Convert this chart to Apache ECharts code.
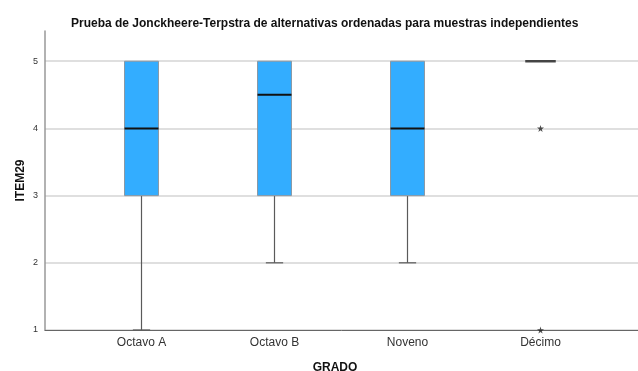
<!DOCTYPE html>
<html>
<head>
<meta charset="utf-8">
<script src="https://cdn.jsdelivr.net/npm/echarts@6/dist/echarts.min.js"></script>
<style>
  html, body { margin: 0; padding: 0; background: #fff; }
  #chart { width: 638px; height: 371px; }
</style>
</head>
<body>
<div id="chart"></div>
<script>
var categories = ["Octavo A", "Octavo B", "Noveno", "Décimo"];
var whiskerLow = [1, 2, 2, 5];
var q1 = [3, 3, 3, 5];
var medians = [4, 4.5, 4, 5];
var q3 = [5, 5, 5, 5];
var whiskerHigh = [5, 5, 5, 5];
// extreme values (stars)
var outliers = [[3, 4], [3, 1]];
var yTicks = [1, 2, 3, 4, 5];

var boxData = categories.map(function (c, i) {
  return [i, whiskerLow[i], q1[i], medians[i], q3[i], whiskerHigh[i]];
});

var starPath = "path://M50,0 L61,35 L98,35 L68,57 L79,91 L50,70 L21,91 L32,57 L2,35 L39,35 Z";

function renderBox(params, api) {
  var i = api.value(0);
  var lo = api.coord([i, api.value(1)]);
  var b1 = api.coord([i, api.value(2)]);
  var md = api.coord([i, api.value(3)]);
  var b3 = api.coord([i, api.value(4)]);
  var hi = api.coord([i, api.value(5)]);
  var band = api.size([1, 0])[0];
  var bw = band * 0.255;
  var cw = band * 0.13;
  var x = md[0];
  var whisk = { stroke: "#5a5a5a", lineWidth: 1.2 };
  var kids = [];
  if (lo[1] > b1[1]) {
    kids.push({ type: "line", shape: { x1: x, y1: b1[1], x2: x, y2: lo[1] }, style: whisk });
    kids.push({ type: "line", shape: { x1: x - cw / 2, y1: lo[1], x2: x + cw / 2, y2: lo[1] }, style: whisk });
  }
  if (hi[1] < b3[1]) {
    kids.push({ type: "line", shape: { x1: x, y1: b3[1], x2: x, y2: hi[1] }, style: whisk });
    kids.push({ type: "line", shape: { x1: x - cw / 2, y1: hi[1], x2: x + cw / 2, y2: hi[1] }, style: whisk });
  }
  if (b1[1] - b3[1] > 0.5) {
    kids.push({
      type: "rect",
      shape: { x: x - bw / 2, y: b3[1], width: bw, height: b1[1] - b3[1] },
      style: { fill: "#33adff", stroke: "#8a98a4", lineWidth: 1 }
    });
    kids.push({ type: "line", shape: { x1: x - bw / 2, y1: md[1], x2: x + bw / 2, y2: md[1] },
      style: { stroke: "#111", lineWidth: 2 } });
  } else {
    kids.push({ type: "line", shape: { x1: x - bw * 0.45, y1: md[1], x2: x + bw * 0.45, y2: md[1] },
      style: { stroke: "#444", lineWidth: 2.5 } });
  }
  return { type: "group", children: kids };
}

var chart = echarts.init(document.getElementById("chart"));
chart.setOption({
  animation: false,
  title: {
    text: "Prueba de Jonckheere-Terpstra de alternativas ordenadas para muestras independientes",
    left: 66,
    top: 13,
    textStyle: { fontFamily: "Liberation Sans", fontSize: 12, fontWeight: "bold", color: "#111" }
  },
  grid: [
    { left: 45, right: 0, top: 31, bottom: 41, outerBoundsMode: "none", containLabel: false },
    { left: 75, right: 31, top: 31, bottom: 41, outerBoundsMode: "none", containLabel: false }
  ],
  xAxis: [
    {
      gridIndex: 0, type: "value", min: 0, max: 1,
      axisLine: { show: true, lineStyle: { color: "#666", width: 1 } },
      axisTick: { show: false }, axisLabel: { show: false }, splitLine: { show: false }
    },
    {
      gridIndex: 1, type: "category", data: categories,
      axisLine: { show: false }, axisTick: { show: false },
      axisLabel: { fontFamily: "Liberation Sans", fontSize: 12, color: "#333", margin: 7 },
      name: "GRADO", nameLocation: "middle", nameGap: 32, nameMoveOverlap: false,
      nameTextStyle: { fontFamily: "Liberation Sans", fontSize: 12, fontWeight: "bold", color: "#111", padding: [0, 12, 0, 0] }
    }
  ],
  yAxis: [
    {
      gridIndex: 0, type: "value", min: 1, max: 5.45, interval: 1,
      axisLine: { show: true, lineStyle: { color: "#999", width: 1.5 } },
      axisTick: { show: false },
      axisLabel: {
        fontFamily: "Liberation Sans", fontSize: 9, color: "#333", margin: 7,
        formatter: function (v) { return yTicks.indexOf(v) >= 0 ? String(v) : ""; }
      },
      splitLine: { show: true, showMaxLine: false, lineStyle: { color: "#d4d4d4", width: 1.5 } },
      name: "ITEM29", nameLocation: "middle", nameGap: 18, nameMoveOverlap: false,
      nameTextStyle: { fontFamily: "Liberation Sans", fontSize: 12, fontWeight: "bold", color: "#111" }
    },
    {
      gridIndex: 1, type: "value", min: 1, max: 5.45, interval: 1, show: false,
      splitLine: { show: false }
    }
  ],
  series: [
    {
      type: "custom",
      xAxisIndex: 1, yAxisIndex: 1,
      data: boxData,
      encode: { x: 0, y: [1, 2, 3, 4, 5] },
      renderItem: renderBox,
      clip: false,
      z: 3
    },
    {
      type: "scatter",
      xAxisIndex: 1, yAxisIndex: 1,
      data: outliers,
      symbol: starPath,
      symbolSize: 7,
      itemStyle: { color: "#222" },
      z: 4
    }
  ]
});
</script>
</body>
</html>
